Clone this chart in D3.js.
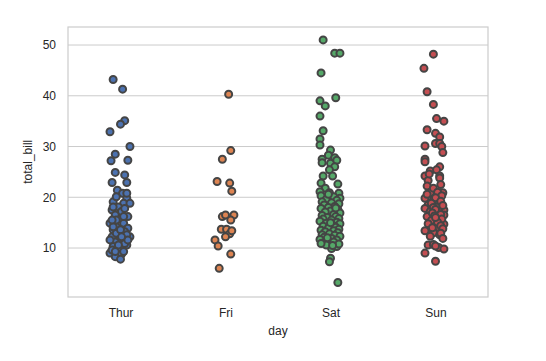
<!DOCTYPE html>
<html>
<head>
<meta charset="utf-8">
<script src="https://cdn.jsdelivr.net/npm/d3@7"></script>
<style>
  body { margin: 0; background: #fff; }
  text { font-family: "Liberation Sans", Arial, sans-serif; fill: #262626; }
</style>
</head>
<body>
<svg id="chart"></svg>
<script>
// categories and colours (seaborn "deep")
var days = ["Thur", "Fri", "Sat", "Sun"];
var dayColors = ["#4c72b0", "#dd8452", "#55a868", "#c44e52"];
var yTicks = [10, 20, 30, 40, 50];

// total_bill values, with the jitter (category units) each point got
var thurBill = [43.2, 41.3, 35.1, 34.4, 32.9, 30.0, 28.5, 27.2, 27.3, 24.9, 24.4, 22.9, 22.9,
  21.4, 20.8, 19.8, 19.1, 18.8, 18.8, 18.1, 17.5, 17.2, 16.5, 16.2, 15.7, 14.9, 14.9, 14.2, 13.9,
  13.6, 13.2, 12.6, 12.2, 12.2, 11.6, 11.2, 10.6, 10.3, 9.9, 9.0, 8.8, 8.3, 7.8, 9.6, 10.9, 12.9,
  12.6, 14.2, 13.6, 16.2, 15.5, 18.1, 17.8, 11.6, 10.6, 11.6, 9.3, 9.3, 20.1, 20.8, 15.5, 12.2];
var thurJitter = [-0.07, 0.02, 0.04, 0.0, -0.10, 0.09, -0.05, -0.09, 0.07, -0.05, 0.04, -0.08, 0.06,
  -0.03, 0.02, 0.06, -0.07, 0.03, 0.09, -0.02, -0.08, 0.01, -0.05, 0.07, 0.0, -0.10, 0.03, -0.04,
  0.07, -0.07, 0.04, -0.02, -0.08, 0.09, 0.01, -0.05, 0.06, -0.07, 0.0, -0.10, 0.01, -0.05, 0.0,
  -0.08, 0.04, -0.04, 0.06, -0.07, 0.0, 0.03, -0.04, -0.07, 0.04, -0.10, -0.02, 0.07, -0.05, 0.03,
  -0.04, 0.06, -0.08, 0.01];

var friBill = [40.3, 29.2, 27.5, 23.1, 22.8, 21.2, 16.2, 16.5, 16.5, 15.5, 13.7, 13.7, 12.8, 12.2,
  11.6, 10.4, 8.8, 6.0, 13.4];
var friJitter = [0.03, 0.05, -0.03, -0.08, 0.04, 0.06, -0.03, 0.0, 0.08, 0.05, -0.04, 0.01, 0.04,
  0.0, -0.10, -0.07, 0.05, -0.06, 0.06];

var satBill = [51.0, 48.4, 48.4, 44.5, 39.6, 39.0, 38.0, 36.0, 33.1, 31.5, 30.3, 29.3, 28.3, 27.8,
  27.5, 26.8, 26.7, 27.3, 26.0, 25.4, 24.2, 24.2, 22.6, 22.8, 21.8, 20.9, 20.8, 21.1, 8.0, 7.3, 3.2,
  9.9, 10.3,
  20.3, 20.1, 19.8, 19.6, 19.4, 19.1, 18.9, 18.7, 18.5, 18.2, 18.0, 17.8, 17.6, 17.3, 17.1, 16.9,
  16.6, 16.4, 16.2, 16.0, 15.8, 15.7, 15.5, 15.3, 15.1, 14.9, 14.8, 14.5, 14.3, 14.1, 13.9, 13.7,
  13.5, 13.4, 13.2, 13.0, 12.8, 12.6, 12.5, 12.3, 12.1, 11.9, 11.7, 11.6, 11.4, 11.2, 11.0, 10.8,
  10.6, 10.5, 20.6, 17.9, 15.0, 12.0, 10.9];
var satJitter = [-0.07, 0.04, 0.09, -0.09, 0.05, -0.10, -0.05, -0.10, -0.07, -0.10, -0.10, 0.0,
  -0.02, 0.04, -0.08, -0.08, 0.0, 0.06, 0.04, -0.01, -0.07, 0.02, 0.07, -0.09, -0.05, -0.01, 0.08,
  -0.10, 0.0, -0.01, 0.07, 0.01, 0.06,
  -0.09, 0.03, 0.09, -0.04, 0.06, -0.08, 0.01, 0.08, -0.06, 0.04, -0.02, -0.09, 0.07, 0.0, -0.05,
  0.09, 0.03, -0.08, 0.05, -0.03, 0.08, -0.07, 0.01, -0.10, 0.06, -0.04, 0.09, 0.02, -0.07, 0.05,
  -0.02, 0.08, -0.09, 0.03, -0.05, 0.07, -0.01, -0.08, 0.04, 0.09, -0.06, 0.01, -0.10, 0.06, -0.03,
  0.03, -0.07, 0.08, -0.04, 0.02, -0.02, 0.05, 0.0, -0.03, -0.09];

var sunBill = [48.2, 45.4, 40.8, 38.3, 35.5, 35.0, 33.3, 32.6, 31.9, 30.1, 30.6, 30.6, 30.0, 28.8,
  27.5, 27.0, 26.0, 25.2, 25.4, 24.2, 24.2, 23.3, 23.8, 22.2, 20.9, 20.9, 21.8, 19.8, 19.5, 18.5,
  17.8, 18.1, 17.5, 17.2, 17.2, 16.5, 16.2, 15.9, 14.7, 14.1, 13.5, 13.4, 13.0, 12.6, 10.6, 10.7,
  10.1, 9.8, 10.4, 9.0, 7.4,
  22.5, 21.0, 20.3, 19.9, 19.2, 18.8, 18.4, 18.0, 17.6, 16.9, 16.6, 16.3, 15.7, 15.4, 15.1, 14.8,
  14.4, 14.0, 13.8, 12.9, 16.0, 20.6, 24.6, 11.9, 12.3];
var sunJitter = [-0.02, -0.11, -0.08, -0.02, 0.01, 0.08, -0.08, 0.0, 0.04, -0.10, 0.0, 0.04, 0.06,
  0.07, -0.10, -0.10, 0.04, -0.05, 0.01, -0.10, 0.04, -0.07, 0.04, -0.08, 0.07, -0.05, -0.02, -0.10,
  -0.02, -0.07, -0.10, 0.01, 0.08, 0.03, -0.05, 0.08, -0.08, 0.03, 0.08, 0.03, -0.07, -0.10, -0.02,
  0.04, -0.07, -0.02, 0.03, 0.08, 0.0, -0.10, 0.0,
  0.05, 0.02, 0.06, 0.0, 0.05, -0.04, 0.07, -0.02, 0.0, -0.03, 0.05, -0.01, 0.06, -0.04, 0.02, -0.07,
  0.05, -0.03, 0.07, 0.05, 0.0, -0.08, -0.06, 0.07, -0.05];

var billByDay = [thurBill, friBill, satBill, sunBill];
var jitterByDay = [thurJitter, friJitter, satJitter, sunJitter];

var width = 546, height = 361;
var margin = {top: 27, right: 58, bottom: 64, left: 68};

var svg = d3.select("#chart").attr("width", width).attr("height", height);

var x = d3.scaleLinear()
  .domain([-0.5, days.length - 0.5])
  .range([margin.left, width - margin.right]);

var y = d3.scaleLinear()
  .domain([0.35, 53.55])
  .range([height - margin.bottom, margin.top]);

// horizontal grid
svg.append("g")
  .selectAll("line")
  .data(yTicks)
  .enter()
  .append("line")
  .attr("x1", margin.left)
  .attr("x2", width - margin.right)
  .attr("y1", function (d) { return y(d); })
  .attr("y2", function (d) { return y(d); })
  .attr("stroke", "#cccccc")
  .attr("stroke-width", 1);

// frame
svg.append("rect")
  .attr("x", margin.left)
  .attr("y", margin.top)
  .attr("width", width - margin.left - margin.right)
  .attr("height", height - margin.top - margin.bottom)
  .attr("fill", "none")
  .attr("stroke", "#cccccc")
  .attr("stroke-width", 1.2);

// y axis labels
var yAxis = d3.axisLeft(y).tickValues(yTicks).tickSize(0).tickPadding(12);
var gy = svg.append("g")
  .attr("transform", "translate(" + margin.left + ",0)")
  .call(yAxis);
gy.select(".domain").remove();
gy.selectAll("text").attr("font-size", 12).style("fill", "#262626")
  .attr("font-family", "Liberation Sans, Arial, sans-serif");

// x axis labels
var xAxis = d3.axisBottom(x)
  .tickValues(d3.range(days.length))
  .tickFormat(function (i) { return days[i]; })
  .tickSize(0).tickPadding(11);
var gx = svg.append("g")
  .attr("transform", "translate(0," + (height - margin.bottom) + ")")
  .call(xAxis);
gx.select(".domain").remove();
gx.selectAll("text").attr("font-size", 12).style("fill", "#262626")
  .attr("font-family", "Liberation Sans, Arial, sans-serif");

// axis titles
svg.append("text")
  .attr("x", x(1.5))
  .attr("y", 335)
  .attr("text-anchor", "middle")
  .attr("font-size", 12)
  .text("day");

svg.append("text")
  .attr("transform", "translate(28," + y(27) + ") rotate(-90)")
  .attr("text-anchor", "middle")
  .attr("dy", "0.35em")
  .attr("font-size", 12)
  .text("total_bill");

// the strip points
days.forEach(function (day, i) {
  var pts = billByDay[i].map(function (v, k) {
    return {value: v, pos: i + jitterByDay[i][k]};
  });
  svg.append("g")
    .selectAll("circle")
    .data(pts)
    .enter()
    .append("circle")
    .attr("cx", function (d) { return x(d.pos); })
    .attr("cy", function (d) { return y(d.value); })
    .attr("r", 3.5)
    .attr("fill", dayColors[i])
    .attr("stroke", "#454545")
    .attr("stroke-width", 2);
});
</script>
</body>
</html>
